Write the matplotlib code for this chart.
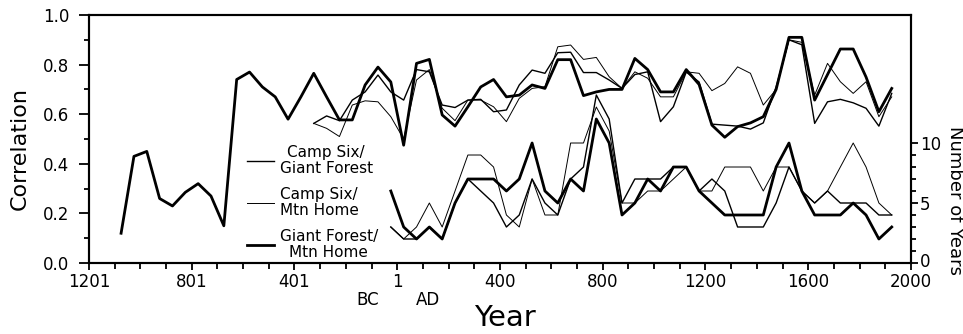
import matplotlib
matplotlib.use("Agg")
import matplotlib.pyplot as plt
from matplotlib.ticker import FixedLocator, MultipleLocator, FormatStrFormatter
from matplotlib.transforms import ScaledTranslation

# centre years of the 50-yr windows (negative = BC)
years_gf_mh = list(range(-1075, 1926, 50))
years_cs = list(range(-325, 1926, 50))
years_n = list(range(-25, 1926, 50))

# correlations
r_gf_mh = [0.12, 0.43, 0.45, 0.26, 0.23, 0.285, 0.32, 0.27, 0.15, 0.74,
           0.77, 0.71, 0.67, 0.58, 0.67,
           0.765, 0.67, 0.577, 0.577, 0.718, 0.79, 0.73,
           0.475, 0.805, 0.821, 0.597, 0.552, 0.63, 0.71, 0.74, 0.67, 0.677,
           0.718, 0.704, 0.82, 0.82, 0.675, 0.69, 0.70, 0.70, 0.825, 0.78,
           0.69, 0.69, 0.78, 0.72, 0.556, 0.507, 0.55, 0.565, 0.59, 0.70,
           0.91, 0.91, 0.657, 0.76, 0.863, 0.863, 0.75, 0.61, 0.704]
r_cs_gf = [0.563, 0.593, 0.574, 0.657, 0.69, 0.758, 0.69,
           0.657, 0.78, 0.771, 0.637, 0.627, 0.657, 0.66, 0.61, 0.617, 0.718,
           0.778, 0.765, 0.848, 0.85, 0.768, 0.768, 0.738, 0.704, 0.76, 0.771,
           0.57, 0.63, 0.77, 0.73, 0.56, 0.556, 0.552, 0.54, 0.565, 0.71,
           0.90, 0.88, 0.563, 0.65, 0.66, 0.646, 0.624, 0.552, 0.684]
r_cs_mh = [0.563, 0.543, 0.51, 0.637, 0.654, 0.65, 0.59,
           0.50, 0.738, 0.78, 0.624, 0.574, 0.657, 0.657, 0.63, 0.57, 0.664,
           0.704, 0.711, 0.872, 0.879, 0.821, 0.829, 0.751, 0.704, 0.771, 0.745,
           0.67, 0.67, 0.771, 0.765, 0.695, 0.724, 0.791, 0.765, 0.637, 0.70,
           0.90, 0.89, 0.677, 0.805, 0.731, 0.684, 0.731, 0.59, 0.67]

# number of years
n_gf_mh = [6, 3, 2, 3, 2, 5, 7, 7, 7, 6, 7, 10, 6, 5, 7, 6, 12, 10, 4, 5,
           7, 6, 8, 8, 6, 5, 4, 4, 4, 4, 8, 10, 6, 4, 4, 4, 5, 4, 2, 3]
n_cs_gf = [3, 2, 2, 3, 2, 5, 7, 6, 5, 3, 4, 7, 5, 4, 7, 8, 14, 12, 5, 7,
           7, 7, 8, 8, 6, 7, 6, 3, 3, 3, 5, 8, 6, 5, 6, 5, 5, 5, 4, 4]
n_cs_mh = [3, 2, 3, 5, 3, 6, 9, 9, 8, 4, 3, 7, 4, 4, 10, 10, 13, 11, 5, 5,
           6, 6, 7, 8, 6, 6, 8, 8, 8, 6, 8, 8, 6, 5, 6, 8, 10, 8, 5, 4]

tick_pos = [-1200, -800, -400, 0, 400, 800, 1200, 1600, 2000]
tick_lab = ["1201", "801", "401", "1", "400", "800", "1200", "1600", "2000"]

fig = plt.figure(figsize=(9.63, 3.34), dpi=100)
ax = fig.add_axes([0.0924, 0.2126, 0.8536, 0.7424])
ax2 = ax.twinx()

lw_thick, lw_med, lw_thin = 2.0, 1.0, 0.7

l1, = ax.plot(years_cs, r_cs_gf, color="black", lw=lw_med)
l2, = ax.plot(years_cs, r_cs_mh, color="black", lw=lw_thin)
l3, = ax.plot(years_gf_mh, r_gf_mh, color="black", lw=lw_thick)

ax2.plot(years_n, n_cs_gf, color="black", lw=lw_med)
ax2.plot(years_n, n_cs_mh, color="black", lw=lw_thin)
ax2.plot(years_n, n_gf_mh, color="black", lw=lw_thick)

ax.set_xlim(-1200, 2000)
ax.set_ylim(0, 1)
ax2.set_ylim(0, 248 / 12)

ax.xaxis.set_major_locator(FixedLocator(tick_pos))
ax.set_xticklabels(tick_lab)
ax.xaxis.set_minor_locator(MultipleLocator(100))
ax.yaxis.set_major_locator(MultipleLocator(0.2))
ax.yaxis.set_minor_locator(MultipleLocator(0.1))
ax.yaxis.set_major_formatter(FormatStrFormatter("%.1f"))
ax2.yaxis.set_major_locator(FixedLocator([0, 5, 10]))
ax2.yaxis.set_minor_locator(FixedLocator(list(range(11))))

for a in (ax, ax2):
    for s in a.spines.values():
        s.set_linewidth(1.5)

ax.tick_params(axis="y", which="major", direction="out", length=7, width=1.3, pad=7, labelsize=12)
ax.tick_params(axis="y", which="minor", direction="out", length=3.5, width=1.3)
ax.tick_params(axis="x", which="major", direction="out", length=5, width=1.3, pad=2.5, labelsize=12)
ax.tick_params(axis="x", which="minor", direction="out", length=4, width=1.3)
ax2.tick_params(axis="y", which="major", direction="out", length=5, width=1.3, pad=1.5, labelsize=12)
ax2.tick_params(axis="y", which="minor", direction="out", length=3.5, width=1.3)
# nudge the right "0" up a touch so it clears "2000"
lab0 = ax2.yaxis.get_major_ticks()[0].label2
lab0.set_transform(lab0.get_transform() + ScaledTranslation(0, 2.5 / 72, fig.dpi_scale_trans))

leg = ax2.legend([l1, l2, l3],
                 ["Camp Six/\nGiant Forest", "Camp Six/\nMtn Home", "Giant Forest/\nMtn Home"],
                 loc="lower left", bbox_to_anchor=(0.192, 0.012), frameon=False,
                 fontsize=11, handlelength=1.75, handletextpad=0.4,
                 labelspacing=0.75, borderpad=0, borderaxespad=0)
for t in leg.get_texts():
    t.set_multialignment("center")
    t.set_linespacing(1.05)

fig.text(0.021, 0.554, "Correlation", rotation=90, ha="center", va="center", fontsize=16)
fig.text(0.992, 0.401, "Number of Years", rotation=270, ha="center", va="center", fontsize=13)
fig.text(0.382, 0.102, "BC", ha="center", va="center", fontsize=12)
fig.text(0.444, 0.102, "AD", ha="center", va="center", fontsize=12)
fig.text(0.524, 0.048, "Year", ha="center", va="center", fontsize=21)

fig.savefig("out.png", dpi=100)
